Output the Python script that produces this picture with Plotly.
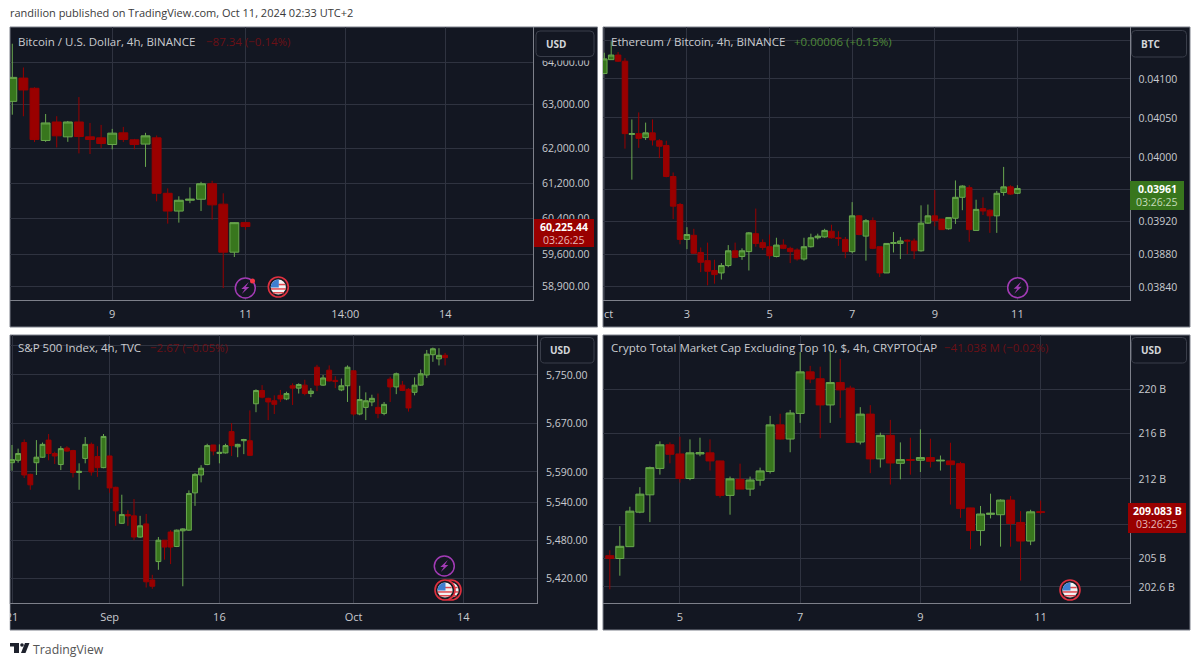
import math
import plotly.graph_objects as go

# -----------------------------
# Bitcoin / U.S. Dollar
# -----------------------------
btc_open = [63079, 63625, 63385, 62173, 62600, 62257, 62600, 62257, 62234, 62081, 62349, 62189, 62090, 62234, 60970, 60571, 60814, 60836, 61186, 60726, 59657, 60312.78]
btc_high = [64438, 63875, 63410, 62785, 62733, 62624, 63179, 62578, 62532, 62440, 62486, 62210, 62349, 62287, 61081, 60903, 61104, 61230, 61253, 60970, 60320, 60330]
btc_low = [62769, 62733, 62136, 62142, 62013, 62142, 61877, 61863, 62002, 61970, 62136, 61970, 61569, 60790, 60290, 60313, 60748, 60571, 60379, 58870, 59550, 60155]
btc_close = [63641, 63345, 62196, 62578, 62280, 62600, 62264, 62196, 62104, 62342, 62196, 62081, 62280, 60970, 60571, 60814, 60836, 61186, 60710, 59657, 60312, 60225.44]
btc_yticks = [64000, 63000, 62000, 61200, 60400, 59600, 58900]
btc_ylabels = ["64,000.00", "63,000.00", "62,000.00", "61,200.00", "60,400.00", "59,600.00", "58,900.00"]
btc_xticks = [9, 21, 30, 39]
btc_xlabels = ["9", "11", "14:00", "14"]

# -----------------------------
# Ethereum / Bitcoin
# -----------------------------
eth_open = [0.04107, 0.04125, 0.04131, 0.04123, 0.04029, 0.04030, 0.04025, 0.04031, 0.04021, 0.04015, 0.03976, 0.03941, 0.03898, 0.03903, 0.03882, 0.03872, 0.03860, 0.03857, 0.03866, 0.03884, 0.03877, 0.03883, 0.03905, 0.03894, 0.03889, 0.03877, 0.03891, 0.03887, 0.03885, 0.03874, 0.03889, 0.03900, 0.03901, 0.03908, 0.03900, 0.03898, 0.03883, 0.03927, 0.03902, 0.03921, 0.03889, 0.03857, 0.03893, 0.03893, 0.03897, 0.03896, 0.03884, 0.03918, 0.03927, 0.03923, 0.03911, 0.03924, 0.03950, 0.03962, 0.03909, 0.03936, 0.03934, 0.03927, 0.03956, 0.03963, 0.03955]
eth_high = [0.04134, 0.04149, 0.04135, 0.04127, 0.04048, 0.04057, 0.04044, 0.04048, 0.04023, 0.04021, 0.03981, 0.03943, 0.03913, 0.03911, 0.03888, 0.03894, 0.03873, 0.03869, 0.03891, 0.03894, 0.03887, 0.03907, 0.03936, 0.03898, 0.03904, 0.03900, 0.03898, 0.03889, 0.03887, 0.03900, 0.03905, 0.03905, 0.03911, 0.03916, 0.03908, 0.03901, 0.03944, 0.03928, 0.03923, 0.03925, 0.03889, 0.03893, 0.03907, 0.03901, 0.03898, 0.03899, 0.03940, 0.03941, 0.03959, 0.03923, 0.03925, 0.03971, 0.03965, 0.03965, 0.03947, 0.03950, 0.03935, 0.03958, 0.03988, 0.03965, 0.03965]
eth_low = [0.04107, 0.04125, 0.04122, 0.04011, 0.03972, 0.04012, 0.04022, 0.04015, 0.03999, 0.03975, 0.03923, 0.03892, 0.03886, 0.03880, 0.03858, 0.03842, 0.03844, 0.03849, 0.03864, 0.03875, 0.03873, 0.03860, 0.03889, 0.03885, 0.03874, 0.03876, 0.03886, 0.03869, 0.03872, 0.03872, 0.03888, 0.03898, 0.03900, 0.03899, 0.03890, 0.03875, 0.03881, 0.03903, 0.03872, 0.03886, 0.03852, 0.03857, 0.03882, 0.03874, 0.03880, 0.03874, 0.03883, 0.03917, 0.03914, 0.03910, 0.03910, 0.03917, 0.03934, 0.03895, 0.03909, 0.03928, 0.03906, 0.03906, 0.03952, 0.03953, 0.03954]
eth_close = [0.04126, 0.04131, 0.04123, 0.04030, 0.04030, 0.04024, 0.04031, 0.04022, 0.04014, 0.03976, 0.03939, 0.03898, 0.03904, 0.03881, 0.03870, 0.03859, 0.03855, 0.03866, 0.03884, 0.03876, 0.03884, 0.03906, 0.03893, 0.03888, 0.03878, 0.03891, 0.03887, 0.03883, 0.03874, 0.03889, 0.03900, 0.03902, 0.03909, 0.03900, 0.03899, 0.03883, 0.03927, 0.03904, 0.03921, 0.03887, 0.03857, 0.03893, 0.03894, 0.03896, 0.03896, 0.03884, 0.03918, 0.03927, 0.03921, 0.03910, 0.03925, 0.03950, 0.03964, 0.03910, 0.03935, 0.03933, 0.03927, 0.03955, 0.03963, 0.03954, 0.03961]
eth_yticks = [0.0415, 0.041, 0.0405, 0.04, 0.0396, 0.0392, 0.0388, 0.0384]
eth_ylabels = ["", "0.04100", "0.04050", "0.04000", "", "0.03920", "0.03880", "0.03840"]
eth_xticks = [0, 12, 24, 36, 48, 60]
eth_xlabels = ["", "3", "5", "7", "9", "11"]

# -----------------------------
# S&P 500 Index
# -----------------------------
spx_open = [5605, 5609, 5638, 5586, 5605, 5614, 5642, 5620, 5602, 5629, 5625, 5589, 5612, 5635, 5615, 5597, 5616, 5565, 5507, 5521, 5519, 5485, 5506, 5417, 5446, 5480, 5493, 5470, 5495, 5496, 5556, 5585, 5602, 5634, 5620, 5621, 5656, 5631, 5641, 5641, 5702, 5724, 5711, 5707, 5716, 5710, 5732, 5728, 5733, 5719, 5763, 5733, 5758, 5741, 5725, 5732, 5757, 5685, 5696, 5705, 5696, 5686, 5743, 5730, 5733, 5726, 5721, 5733, 5750, 5784, 5777, 5783]
spx_high = [5634, 5628, 5643, 5587, 5642, 5638, 5652, 5623, 5632, 5632, 5626, 5604, 5647, 5638, 5632, 5652, 5617, 5566, 5553, 5528, 5546, 5519, 5522, 5425, 5485, 5480, 5496, 5497, 5499, 5560, 5588, 5601, 5636, 5634, 5635, 5636, 5670, 5636, 5644, 5691, 5726, 5733, 5712, 5716, 5725, 5722, 5736, 5736, 5742, 5728, 5767, 5750, 5766, 5748, 5744, 5766, 5757, 5732, 5721, 5717, 5719, 5705, 5747, 5754, 5740, 5728, 5746, 5759, 5792, 5796, 5795, 5787]
spx_low = [5592, 5605, 5580, 5561, 5585, 5613, 5609, 5603, 5593, 5623, 5581, 5561, 5604, 5584, 5582, 5596, 5556, 5503, 5506, 5503, 5480, 5484, 5405, 5403, 5433, 5449, 5442, 5469, 5407, 5495, 5535, 5573, 5601, 5617, 5604, 5620, 5616, 5614, 5619, 5616, 5688, 5711, 5675, 5685, 5705, 5708, 5700, 5719, 5716, 5713, 5723, 5732, 5739, 5728, 5723, 5705, 5682, 5683, 5675, 5698, 5678, 5683, 5705, 5718, 5723, 5689, 5716, 5732, 5745, 5772, 5766, 5766]
spx_close = [5610, 5620, 5585, 5569, 5614, 5635, 5620, 5616, 5628, 5624, 5589, 5591, 5635, 5590, 5597, 5648, 5564, 5527, 5521, 5519, 5485, 5503, 5414, 5407, 5480, 5469, 5469, 5496, 5498, 5555, 5586, 5596, 5633, 5624, 5622, 5633, 5633, 5635, 5643, 5617, 5724, 5713, 5705, 5701, 5710, 5719, 5728, 5734, 5719, 5723, 5733, 5745, 5740, 5739, 5732, 5763, 5685, 5709, 5707, 5711, 5686, 5701, 5730, 5752, 5724, 5695, 5733, 5752, 5785, 5794, 5783, 5779]
spx_yticks = [5800, 5750, 5670, 5590, 5540, 5480, 5420]
spx_ylabels = ["", "5,750.00", "5,670.00", "5,590.00", "5,540.00", "5,480.00", "5,420.00"]
spx_xticks = [0, 16, 34, 56, 74]
spx_xlabels = ["21", "Sep", "16", "Oct", "14"]

# -----------------------------
# Crypto Total Market Cap Excluding Top 10 (billions)
# -----------------------------
cap_open = [205.35, 205.11, 206.12, 209.09, 210.6, 212.92, 215.02, 214.2, 212.03, 214.2, 214.3, 213.58, 210.55, 211.96, 211.1, 211.88, 212.65, 216.8, 215.53, 217.83, 221.62, 220.99, 218.6, 220.64, 220.13, 215.26, 217.77, 213.76, 215.86, 213.37, 213.7, 213.64, 213.88, 213.58, 213.58, 213.34, 209.46, 207.5, 208.9, 208.87, 210.14, 208.2, 206.6, 209.124]
cap_high = [205.81, 207.88, 209.56, 211.27, 213.08, 215.32, 215.23, 215.74, 215.5, 215.65, 215.5, 213.6, 212.2, 213.34, 212.2, 212.99, 217.61, 217.8, 218.15, 223.45, 222.17, 222.1, 223.65, 222.82, 220.35, 218.4, 218.58, 216.1, 217.25, 215.23, 215.65, 216.4, 215.56, 214.06, 215.2, 213.5, 209.48, 209.63, 210.7, 210.2, 210.5, 209.18, 209.3, 210.1]
cap_low = [202.5, 203.65, 206.1, 209.0, 208.23, 212.37, 213.37, 211.67, 211.88, 214.0, 212.73, 210.35, 208.87, 211.1, 210.5, 211.4, 212.47, 215.47, 214.35, 216.98, 220.58, 215.6, 216.98, 217.43, 215.17, 215.05, 212.5, 213.0, 211.5, 211.96, 212.37, 212.6, 213.0, 212.73, 209.75, 208.6, 205.9, 206.2, 208.55, 206.12, 206.12, 203.24, 206.25, 208.9]
cap_close = [205.11, 206.15, 209.18, 210.66, 212.99, 215.02, 214.17, 212.03, 214.3, 214.32, 213.58, 210.55, 212.0, 211.1, 211.9, 212.7, 216.8, 215.53, 217.87, 221.62, 220.96, 218.6, 220.64, 219.97, 215.23, 217.77, 213.76, 215.86, 213.4, 213.7, 213.64, 213.88, 213.55, 213.64, 213.25, 209.4, 207.5, 208.93, 209.0, 210.14, 208.11, 206.6, 209.12, 209.083]
cap_yticks = [220, 216, 212, 208, 205.1, 202.7]
cap_ylabels = ["220 B", "216 B", "212 B", "", "205 B", "202.6 B"]
cap_xticks = [7, 19, 31, 43]
cap_xlabels = ["5", "7", "9", "11"]

W, H = 1200, 666
PANEL_BG = "#131722"
GRID = "#2f3340"
BORDER = "#7d808a"
TEXT = "#c9cbd0"
UP_FILL = "#38761d"
UP_LINE = "#6aa84f"
DOWN = "#990000"
PURPLE = "#a23bb5"
FONT = "Open Sans"


def px(x):
    return x / W


def py(y):
    return 1 - y / H


shapes = []
annotations = []


def add_rect(x0, y0, x1, y1, fill, line=None, layer="above", width=1):
    shapes.append(dict(
        type="rect", xref="paper", yref="paper", layer=layer,
        x0=px(x0), x1=px(x1), y0=py(y0), y1=py(y1),
        fillcolor=fill,
        line=dict(color=line, width=width) if line else dict(width=0),
    ))


def add_round_rect(x0, y0, x1, y1, r, fill, line):
    p = lambda x, y: f"{px(x):.5f},{py(y):.5f}"
    path = (
        f"M {p(x0 + r, y0)} L {p(x1 - r, y0)} Q {p(x1, y0)} {p(x1, y0 + r)} "
        f"L {p(x1, y1 - r)} Q {p(x1, y1)} {p(x1 - r, y1)} "
        f"L {p(x0 + r, y1)} Q {p(x0, y1)} {p(x0, y1 - r)} "
        f"L {p(x0, y0 + r)} Q {p(x0, y0)} {p(x0 + r, y0)} Z"
    )
    shapes.append(dict(type="path", xref="paper", yref="paper", layer="above",
                       path=path, fillcolor=fill, line=dict(color=line, width=1)))


def add_circle(cx, cy, r, fill, line=None, width=1.5):
    shapes.append(dict(
        type="circle", xref="paper", yref="paper", layer="above",
        x0=px(cx - r), x1=px(cx + r), y0=py(cy - r), y1=py(cy + r),
        fillcolor=fill,
        line=dict(color=line, width=width) if line else dict(width=0),
    ))


def add_poly(points, fill):
    path = "M " + " L ".join(f"{px(x):.5f},{py(y):.5f}" for x, y in points) + " Z"
    shapes.append(dict(type="path", xref="paper", yref="paper", layer="above",
                       path=path, fillcolor=fill, line=dict(width=0)))


def add_text(x, y, text, color=TEXT, size=11, anchor="left", family=FONT):
    annotations.append(dict(
        xref="paper", yref="paper", x=px(x), y=py(y), text=text, showarrow=False,
        xanchor=anchor, yanchor="middle", borderpad=0, borderwidth=0,
        font=dict(color=color, size=size, family=family),
    ))


def bolt(cx, cy, r=10):
    add_circle(cx, cy, r, PANEL_BG, PURPLE, 1.5)
    pts = [(3.5, -6), (-4, 1), (-0.5, 1), (-3.5, 6), (4, -1), (0.5, -1)]
    add_poly([(cx + a, cy + b) for a, b in pts], PURPLE)


def flag(cx, cy):
    add_circle(cx, cy, 10, "#1a1a22", "#e0303f", 1.6)
    add_circle(cx, cy, 7.6, "#f2f2f2")
    # red stripes, cut to the disc
    for dy in (-3.2, 1.2, 5):
        half = math.sqrt(max(7.4 ** 2 - dy ** 2, 0))
        left = -half if dy > 0 else 0
        add_poly([(cx + left, cy + dy), (cx + half, cy + dy),
                  (cx + half, cy + dy + 1.5), (cx + left, cy + dy + 1.5)], "#e0484f")
    arc = [(cx + 7.4 * math.cos(a / 10), cy + 7.4 * math.sin(a / 10)) for a in range(31, 48)]
    add_poly([(cx + 0.5, cy + 0.5), (cx - 7.4, cy + 0.5)] + arc + [(cx + 0.5, cy - 7.4)], "#3f7fd0")


def price_box(x0, y0, x1, y1, fill, price, timer, timer_color):
    add_rect(x0, y0, x1, y1, fill)
    mid = (x0 + x1) / 2
    add_text(mid, y0 + 8, f"<b>{price}</b>", "#ffffff", 10.5, "center")
    add_text(mid, y0 + 21, timer, timer_color, 10.5, "center")


def unit_button(x0, y0, x1, y1, label):
    add_round_rect(x0, y0, x1, y1, 4, PANEL_BG, "#3a3e4a")
    add_text(x0 + 9.5, (y0 + y1) / 2, f"<b>{label}</b>", "#d4d6da", 10)


fig = go.Figure()

panels = [
    dict(n="", o=btc_open, h=btc_high, l=btc_low, c=btc_close, yt=btc_yticks, yl=btc_ylabels,
         xt=btc_xticks, xl=btc_xlabels, box=(10, 27, 533, 300, 597.5, 327),
         xr=[-0.207, 46.9], yr=[4.76798, 4.81183]),
    dict(n="2", o=eth_open, h=eth_high, l=eth_low, c=eth_close, yt=eth_yticks, yl=eth_ylabels,
         xt=eth_xticks, xl=eth_xlabels, box=(603, 27, 1129.5, 300, 1190, 327),
         xr=[-0.19, 76.28], yr=[-1.41745, -1.38011]),
    dict(n="3", o=spx_open, h=spx_high, l=spx_low, c=spx_close, yt=spx_yticks, yl=spx_ylabels,
         xt=spx_xticks, xl=spx_xlabels, box=(10, 335, 537, 603, 597.5, 630),
         xr=[-0.33, 86.07], yr=[3.73084, 3.76472]),
    dict(n="4", o=cap_open, h=cap_high, l=cap_low, c=cap_close, yt=cap_yticks, yl=cap_ylabels,
         xt=cap_xticks, xl=cap_xlabels, box=(603, 335, 1129.5, 603, 1190, 630),
         xr=[-0.68, 51.87], yr=[2.30397, 2.35225]),
]

layout_axes = {}
for p in panels:
    x0, y0, x1, y1, x2, y2 = p["box"]
    add_rect(x0, y0, x2, y2, PANEL_BG, BORDER, layer="below")
    fig.add_trace(go.Candlestick(
        x=list(range(len(p["o"]))),
        open=p["o"], high=p["h"], low=p["l"], close=p["c"],
        xaxis="x" + p["n"], yaxis="y" + p["n"],
        increasing=dict(line=dict(color=UP_LINE, width=1), fillcolor=UP_FILL),
        decreasing=dict(line=dict(color=DOWN, width=1), fillcolor=DOWN),
        whiskerwidth=0, showlegend=False,
    ))
    layout_axes["xaxis" + p["n"]] = dict(
        domain=[px(x0), px(x1)], range=p["xr"], anchor="y" + p["n"], automargin=False,
        rangeslider=dict(visible=False),
        tickmode="array", tickvals=p["xt"], ticktext=p["xl"],
        showgrid=True, gridcolor=GRID, gridwidth=1, zeroline=False,
        showline=True, linecolor=BORDER, linewidth=1, ticks="",
        ticklabelstandoff=4,
        tickfont=dict(color=TEXT, size=11, family=FONT),
    )
    layout_axes["yaxis" + p["n"]] = dict(
        domain=[py(y1), py(y0)], range=p["yr"], type="log", side="right",
        anchor="x" + p["n"], automargin=False,
        tickmode="array", tickvals=p["yt"], ticktext=p["yl"],
        showgrid=True, gridcolor=GRID, gridwidth=1, zeroline=False,
        showline=True, linecolor=BORDER, linewidth=1, ticks="",
        ticklabelstandoff=6,
        tickfont=dict(color=TEXT, size=10.5, family=FONT),
    )

# clipped tick labels at the pane edges
add_rect(0, 604, 9.5, 630, "#ffffff")
add_text(603.5, 313, "ct", TEXT, 11)

# header and footer
add_text(10, 13, "randilion published on TradingView.com, Oct 11, 2024 02:33 UTC+2", "#3a3a3a", 11)
add_text(33, 649, "TradingView", "#555555", 12.3)
add_rect(10, 643, 19, 646.5, "#1e222d")
add_rect(14, 643, 19, 653, "#1e222d")
add_circle(22, 645, 1.8, "#1e222d")
add_poly([(25, 643), (29.5, 643), (25.5, 653), (21, 653)], "#1e222d")

# pane legends
add_text(17.5, 41, "Bitcoin / U.S. Dollar, 4h, BINANCE", TEXT, 11.5)
add_text(206, 41, "−87.34 (−0.14%)", "#6b1016", 11.5)
add_text(611, 41, "Ethereum / Bitcoin, 4h, BINANCE", TEXT, 11.5)
add_text(794, 41, "+0.00006 (+0.15%)", "#4f8a3a", 11.5)
add_text(17.5, 347, "S&P 500 Index, 4h, TVC", TEXT, 11.5)
add_text(150, 347, "−2.67 (−0.05%)", "#6b1016", 11.5)
add_text(611, 347, "Crypto Total Market Cap Excluding Top 10, $, 4h, CRYPTOCAP", TEXT, 11.5)
add_text(944, 347, "−41.038 M (−0.02%)", "#6b1016", 11.5)

# scale buttons and last price tags
add_rect(534, 28, 597, 60.5, PANEL_BG)  # the USD button hides the top half of 64,000.00
unit_button(536, 31, 594, 56.5, "USD")
unit_button(1131.5, 30.5, 1186.5, 57, "BTC")
unit_button(540.5, 337.5, 594, 363, "USD")
unit_button(1131.5, 337.5, 1186.5, 363, "USD")
price_box(534, 219, 594, 247, DOWN, "60,225.44", "03:26:25", "#e6b8b8")
price_box(1130, 181, 1184, 210, UP_FILL, "0.03961", "03:26:25", "#c6dcbc")
price_box(1128, 503, 1186, 533, DOWN, "209.083 B", "03:26:25", "#e6b8b8")

# event markers
bolt(245.3, 288)
add_circle(252.5, 281, 2.5, "#f23645")
flag(278.3, 287)
bolt(1017.7, 287.7)
bolt(444.3, 566)
flag(451, 590)
flag(445, 590)
flag(1070, 590)

fig.update_layout(
    width=W, height=H,
    margin=dict(l=0, r=0, t=0, b=0),
    paper_bgcolor="#ffffff",
    plot_bgcolor=PANEL_BG,
    font=dict(family=FONT, color=TEXT),
    boxgap=0.2,
    boxgroupgap=0,
    showlegend=False,
    shapes=shapes,
    annotations=annotations,
    **layout_axes,
)

# the page's default body margin would push the whole figure off its 1200x666 frame
fig.write_html(
    "out.html",
    config={"displayModeBar": False},
    post_script="document.body.style.margin='0';document.documentElement.style.overflow='hidden';",
)
